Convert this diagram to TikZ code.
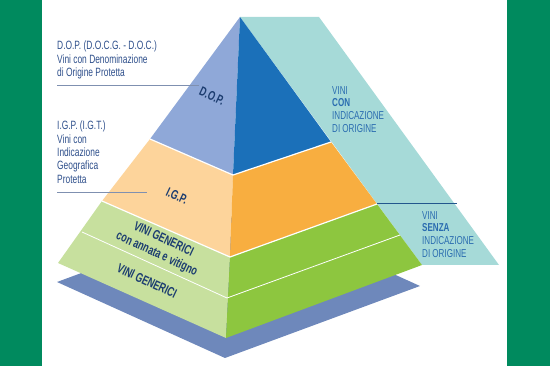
\documentclass[tikz,border=0pt]{standalone}
\usepackage{fontspec}
\setmainfont{Liberation Sans}[FakeStretch=0.7]
\usepackage{tikz}

\definecolor{bargreen}{HTML}{008A5E}
\definecolor{teal}{HTML}{A6DAD8}
\definecolor{dopleft}{HTML}{8FA8D8}
\definecolor{dopright}{HTML}{1B70B9}
\definecolor{igpleft}{HTML}{FDD49B}
\definecolor{igpright}{HTML}{F8AE40}
\definecolor{genleft}{HTML}{C7E09E}
\definecolor{genright}{HTML}{8DC63F}
\definecolor{shadow}{HTML}{6E88BB}
\definecolor{navy}{HTML}{1C3D70}
\definecolor{notecol}{HTML}{2E4F8B}
\definecolor{sidecol}{HTML}{2A6CB0}
\definecolor{rulecol}{HTML}{7F90B0}

\begin{document}
\begin{tikzpicture}[x=1pt,y=-1pt,
    sep/.style={white, line width=1.2pt},
    note/.style={anchor=north west, align=left, inner sep=0pt, text=notecol,
        font=\fontsize{12}{13.3}\selectfont},
    side/.style={anchor=north west, align=left, inner sep=0pt, text=sidecol,
        font=\fontsize{11.5}{12.7}\selectfont},
    tag/.style={text=navy, inner sep=0pt, align=center, rotate=-25,
        font=\bfseries\fontsize{13}{16}\selectfont}
]
\useasboundingbox (0,0) rectangle (550,366);

% side bars
\fill[bargreen] (0,0) rectangle (42,366);
\fill[bargreen] (507,0) rectangle (550,366);

% pyramid corners
\coordinate (A) at (240,17);
\coordinate (L1) at (150,139);
\coordinate (L2) at (102,201);
\coordinate (L3) at (82,232);
\coordinate (L4) at (58,263);
\coordinate (F1) at (233,175);
\coordinate (F2) at (230,257);
\coordinate (F3) at (227,298);
\coordinate (F4) at (226,338);
\coordinate (R1) at (331,142);
\coordinate (R2) at (377,204);
\coordinate (R3) at (400,235);
\coordinate (R4) at (422,265);

% band and shadow
\fill[teal] (A) -- (319,17) -- (499,265) -- (R4) -- cycle;
\fill[shadow] (57,282) -- (252,210) -- (420,286) -- (225,358) -- cycle;

% faces
\fill[dopleft] (A) -- (L1) -- (F1) -- cycle;
\fill[dopright] (A) -- (F1) -- (R1) -- cycle;
\fill[igpleft] (L1) -- (L2) -- (F2) -- (F1) -- cycle;
\fill[igpright] (F1) -- (F2) -- (R2) -- (R1) -- cycle;
\fill[genleft] (L2) -- (L4) -- (F4) -- (F2) -- cycle;
\fill[genright] (F2) -- (F4) -- (R4) -- (R2) -- cycle;

\draw[sep] (L1) -- (F1) -- (R1);
\draw[sep] (L2) -- (F2) -- (R2);
\draw[sep, line width=0.8pt] (L3) -- (F3) -- (R3);

% labels on the faces
\node[tag] (dop) at (212,96) {D.O.P.};
\node[tag] (igp) at (177,196) {I.G.P.};
\node[tag] (gen1) at (160,247) {VINI GENERICI\\con annata e vitigno};
\node[tag] (gen2) at (147,281) {VINI GENERICI};

% notes on the left
\node[note] (dopnote) at (57,41) {D.O.P. (D.O.C.G. - D.O.C.)\\Vini con Denominazione\\di Origine Protetta};
\draw[rulecol, line width=1pt] (57,86) -- (199,86);
\node[note] (igpnote) at (57,121) {I.G.P. (I.G.T.)\\Vini con\\Indicazione\\Geografica\\Protetta};
\draw[rulecol, line width=1pt] (57,193) -- (147,193);

% notes on the right
\node[side] (connote) at (332,86) {VINI\\\textbf{CON}\\INDICAZIONE\\DI ORIGINE};
\draw[sidecol!80!black, line width=1pt] (R2) -- (457,204);
\node[side] (senzanote) at (422,211) {VINI\\\textbf{SENZA}\\INDICAZIONE\\DI ORIGINE};
\end{tikzpicture}
\end{document}
